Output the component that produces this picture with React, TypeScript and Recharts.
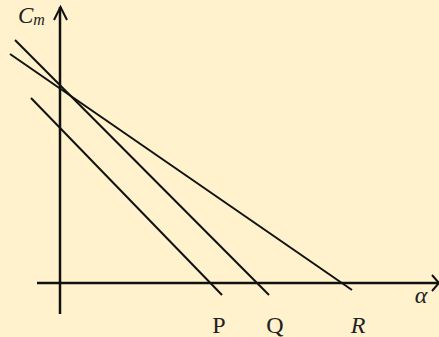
import React from 'react';
import { ComposedChart, Line, XAxis, YAxis, ReferenceDot } from 'recharts';

// Values in chart units (alpha horizontally, Cm vertically), origin at the axes' crossing
const lineP = [{ a: -2.9, cm: 18.5 }, { a: 16.2, cm: -1.2 }];
const lineQ = [{ a: -4.5, cm: 24.3 }, { a: 20.9, cm: -1.2 }];
const lineR = [{ a: -5.0, cm: 22.9 }, { a: 29.2, cm: -0.7 }];
const alphaAxis = [{ a: -2.3, cm: 0 }, { a: 37.9, cm: 0 }];
const cmAxis = [{ a: 0, cm: -3.1 }, { a: 0, cm: 27.6 }];
const alphaArrow = [{ a: 37.2, cm: 0.8 }, { a: 37.9, cm: 0 }, { a: 37.2, cm: -0.8 }];
const cmArrow = [{ a: -0.6, cm: 26.3 }, { a: 0.05, cm: 27.6 }, { a: 0.7, cm: 26.3 }];
const interceptLabels = ['P', 'Q', 'R'];
const interceptAlpha = [15.9, 21.5, 29.8];
const interceptItalic = [false, false, true];
const alphaDomain = [-6.0, 37.9];
const cmDomain = [-5.4, 28.3];

const FONT = '"Liberation Serif", "DejaVu Serif", serif';

const seg = (data: any[], w: number, key: string) => (
  <Line
    key={key}
    data={data}
    dataKey="cm"
    stroke="#111"
    strokeWidth={w}
    dot={false}
    activeDot={false}
    legendType="none"
    isAnimationActive={false}
  />
);

export default function App() {
  return (
    <div style={{ position: 'absolute', left: 0, top: 0, width: 439, height: 337, background: '#FFF2CC' }}>
      <ComposedChart width={439} height={337} margin={{ top: 0, right: 0, bottom: 0, left: 0 }}>
        <XAxis type="number" dataKey="a" domain={alphaDomain} hide allowDataOverflow />
        <YAxis type="number" dataKey="cm" domain={cmDomain} hide allowDataOverflow />
        {seg(alphaAxis, 2.5, 'ax')}
        {seg(cmAxis, 2.5, 'ay')}
        {seg(alphaArrow, 2, 'arx')}
        {seg(cmArrow, 2, 'ary')}
        {seg(lineP, 2, 'p')}
        {seg(lineQ, 2, 'q')}
        {seg(lineR, 2, 'r')}
        {interceptLabels.map((t, i) => (
          <ReferenceDot
            key={t}
            x={interceptAlpha[i]}
            y={-5.0}
            r={0}
            shape={(p: any) => (
              <text x={p.cx} y={p.cy} textAnchor="middle" fontFamily={FONT} fontSize={24}
                fontStyle={interceptItalic[i] ? 'italic' : 'normal'} fill="#222">{t}</text>
            )}
          />
        ))}
        <ReferenceDot
          x={36.1}
          y={-2.0}
          r={0}
          shape={(p: any) => (
            <text x={p.cx} y={p.cy} textAnchor="middle" fontFamily={FONT} fontSize={24} fontStyle="italic" fill="#222">α</text>
          )}
        />
        <ReferenceDot
          x={-4.2}
          y={26.0}
          r={0}
          shape={(p: any) => (
            <text x={p.cx} y={p.cy} textAnchor="start" fontFamily={FONT} fontSize={23} fontStyle="italic" fill="#222">
              C<tspan fontSize={16} dy={2}>m</tspan>
            </text>
          )}
        />
      </ComposedChart>
    </div>
  );
}
